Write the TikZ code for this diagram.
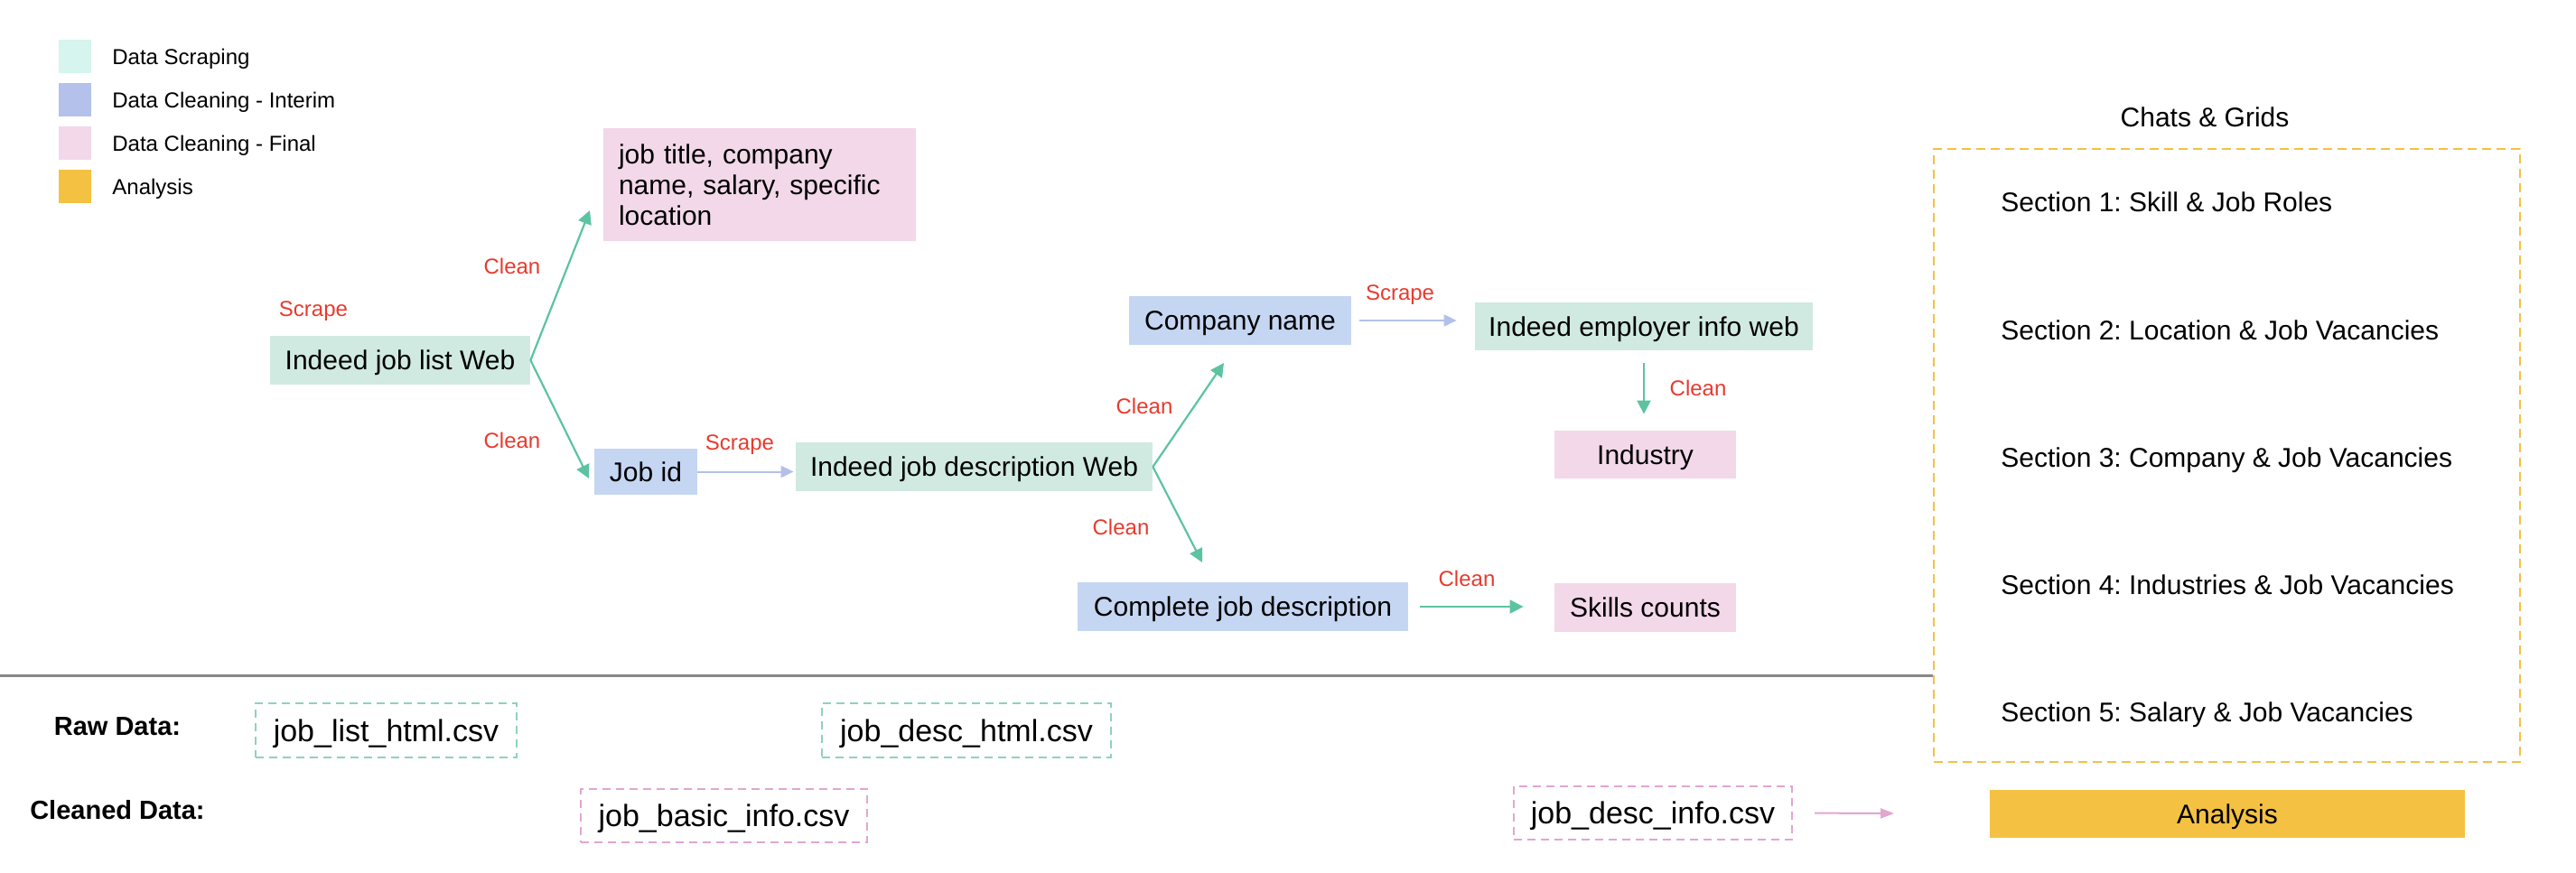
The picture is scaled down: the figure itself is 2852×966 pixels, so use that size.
\documentclass[tikz,border=0pt]{standalone}
\usepackage{fontspec}
\setmainfont{Liberation Sans}
\usepackage{xcolor}
\usepackage{tikz}
\usetikzlibrary{positioning}
\usetikzlibrary{arrows.meta}
\frenchspacing

\definecolor{webfill}{HTML}{D0EAE1}
\definecolor{interimfill}{HTML}{C5D6F3}
\definecolor{finalfill}{HTML}{F2D8E9}
\definecolor{legscrape}{HTML}{D5F5EE}
\definecolor{leginterim}{HTML}{B4C1EB}
\definecolor{analysisfill}{HTML}{F4C142}
\definecolor{cleanline}{HTML}{5CC3A2}
\definecolor{scrapeline}{HTML}{B4C0EA}
\definecolor{rawline}{HTML}{8DD3BC}
\definecolor{finalline}{HTML}{E2A6CF}
\definecolor{sepgray}{HTML}{888888}
\definecolor{actred}{HTML}{E63B2E}

\tikzset{
  box/.style={inner sep=0pt, minimum height=27pt, text depth=0pt, font=\fontsize{15}{17}\selectfont},
  web/.style={box, fill=webfill},
  interim/.style={box, fill=interimfill},
  final/.style={box, fill=finalfill},
  finallist/.style={fill=finalfill, inner sep=0pt, inner xsep=8.5pt, align=left, font=\fontsize{15}{17}\selectfont},
  act/.style={text=actred, inner sep=0pt, font=\fontsize{12}{14}\selectfont},
  legendtext/.style={anchor=west, inner sep=0pt, text depth=0pt, font=\fontsize{12}{14}\selectfont},
  rowlabel/.style={inner sep=0pt, text depth=0pt, font=\fontsize{14.5}{17}\selectfont\bfseries},
  cleanarrow/.style={draw=cleanline, line width=1.1pt, -{Triangle[length=7.5pt,width=7.5pt]}},
  scrapearrow/.style={draw=scrapeline, line width=1pt, -{Triangle[length=7pt,width=6.5pt]}},
  rawfile/.style={draw=rawline, line width=1pt, dash pattern=on 4.5pt off 3pt, inner sep=0pt,
    minimum height=30pt, text depth=0pt, font=\fontsize{17}{20}\selectfont},
  cleanfile/.style={rawfile, draw=finalline, minimum height=29.5pt},
  section/.style={anchor=west, inner sep=0pt, text depth=0pt, font=\fontsize{15}{17}\selectfont},
}

\begin{document}
\begin{tikzpicture}[x=0.5pt, y=-0.5pt]
\useasboundingbox (0,0) rectangle (2852,966);

 % legend
 \foreach \y/\col/\name in {62.5/legscrape/Data Scraping, 110.5/leginterim/Data Cleaning - Interim,
                            158.5/finalfill/Data Cleaning - Final, 206.5/analysisfill/Analysis} {
         \fill[\col] (65,\y-18.5) rectangle (101,\y+18.5);
         \node[legendtext] at (124,\y) {\name};
 }

 % scraping and cleaning steps
 \node[web, minimum width=144pt] (joblist) at (443,399) {Indeed job list Web};
 \node[finallist, minimum height=62.5pt, text width=156pt] (fields) at (841,204.5)
      {job title, company\\ name, salary, specific\\ location};
 \node[interim, minimum width=57pt, minimum height=25.5pt] (jobid) at (715,522.5) {Job id};
 \node[web, minimum width=197.5pt] (descweb) at (1078.5,517) {Indeed job description Web};
 \node[interim, minimum width=123pt] (company) at (1373,355) {Company name};
 \node[web, minimum width=187pt, minimum height=26.5pt] (employer) at (1820,361.5) {Indeed employer info web};
 \node[final, minimum width=100.5pt, minimum height=26.5pt] (industry) at (1821.5,503.5) {Industry};
 \node[interim, minimum width=183pt] (complete) at (1376,672) {Complete job description};
 \node[final, minimum width=100.5pt] (skills) at (1821.5,673) {Skills counts};

 \node[act] (scrapelist) at (347,345) {Scrape};
 \node[act] (cleanfields) at (567,295) {Clean};
 \node[act] (cleanjobid) at (567,488) {Clean};
 \node[act] (scrapedesc) at (819,493) {Scrape};
 \node[act] (cleancompany) at (1267,450) {Clean};
 \node[act] (cleancomplete) at (1241,584) {Clean};
 \node[act] (scrapeemployer) at (1550,327) {Scrape};
 \node[act] (cleanindustry) at (1880,430) {Clean};
 \node[act] (cleanskills) at (1624,641) {Clean};

 % lines
 \coordinate (fieldsin) at (653,233);
 \coordinate (jobidin) at (652,530);
 \coordinate (companyin) at (1355,402);
 \coordinate (completein) at (1331,623);
 \draw[cleanarrow] (joblist.east) -- (fieldsin);
 \draw[cleanarrow] (joblist.east) -- (jobidin);
 \draw[scrapearrow, shorten >=1pt] (jobid.east) -- (jobid.east -| descweb.west);
 \draw[cleanarrow] (descweb.east) -- (companyin);
 \draw[cleanarrow] (descweb.east) -- (completein);
 \draw[scrapearrow, shorten <=4.5pt, shorten >=10pt] (company.east) -- (company.east -| employer.west);
 \draw[cleanarrow, shorten <=7pt, shorten >=9pt] (employer.south) -- (employer.south |- industry.north);
 \draw[cleanarrow, shorten <=6.5pt, shorten >=17pt] (complete.east) -- (complete.east -| skills.west);

 % charts
 \node[inner sep=0pt, text depth=0pt, font=\fontsize{15}{17}\selectfont] (charttitle) at (2441,130) {Chats \& Grids};
 \node[draw=analysisfill, line width=1pt, dash pattern=on 5pt off 3pt, minimum width=324.5pt, minimum height=339.5pt]
      (panel) at (2465.5,504.5) {};
 \foreach \i/\y/\txt in {1/224/Skill \& Job Roles, 2/366/Location \& Job Vacancies, 3/507/Company \& Job Vacancies,
                         4/648/Industries \& Job Vacancies, 5/789/Salary \& Job Vacancies} {
         \node[section] (sec\i) at (2215,\y) {Section \i: \txt};
 }
 \node[box, fill=analysisfill, minimum width=263pt, minimum height=26.5pt] (analysis) at (2466,901.5) {Analysis};

 % separator
 \coordinate (sepstart) at (0,748);
 \draw[sepgray, line width=1.5pt] (sepstart) -- (sepstart -| panel.west);

 % files
 \node[rowlabel] (rawlabel) at (130,805) {Raw Data:};
 \node[rowlabel] (cleanedlabel) at (130,897) {Cleaned Data:};
 \node[rawfile, minimum width=144.5pt] (listhtml) at (427.5,809) {job\_list\_html.csv};
 \node[rawfile, minimum width=160pt] (deschtml) at (1070,809) {job\_desc\_html.csv};
 \node[cleanfile, minimum width=158.5pt] (basicinfo) at (801.5,903.5) {job\_basic\_info.csv};
 \node[cleanfile, minimum width=154pt] (descinfo) at (1830,900.5) {job\_desc\_info.csv};
 \coordinate (analysisin) at (2097,901);
 \draw[draw=finalline, line width=1pt, shorten <=12pt, -{Triangle[length=7.5pt,width=5.5pt]}] (descinfo.east) -- (analysisin);

\end{tikzpicture}
\end{document}
